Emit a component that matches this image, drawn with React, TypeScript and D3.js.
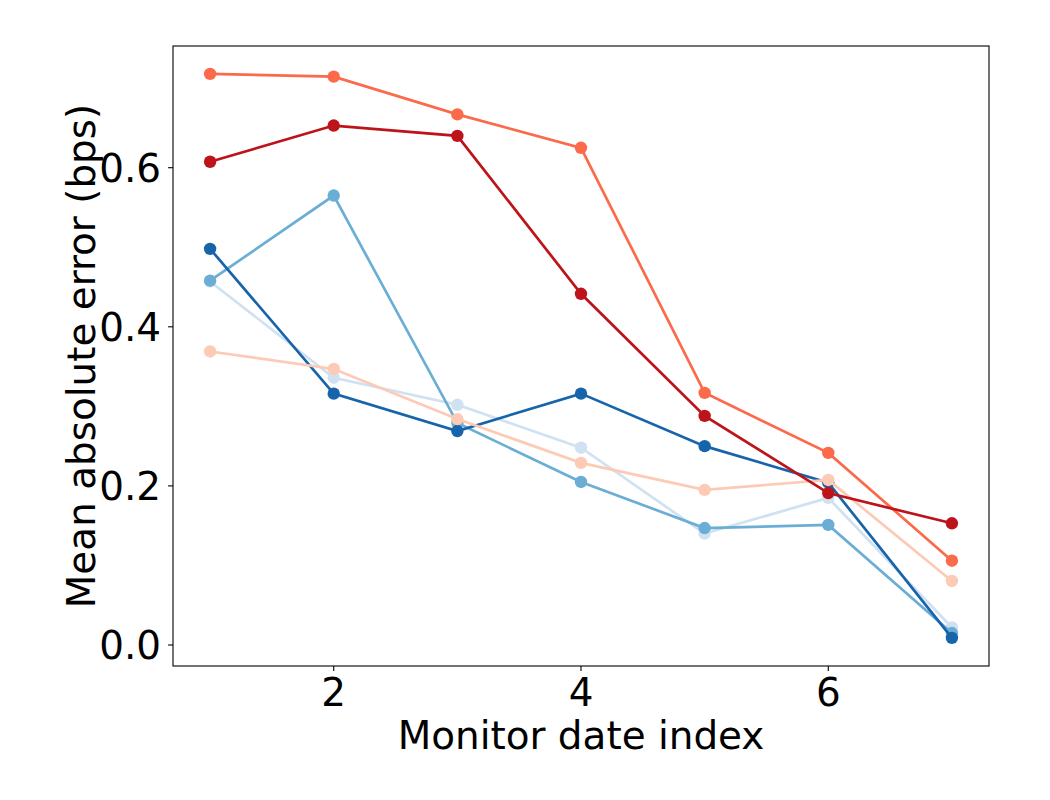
import * as d3 from 'd3';

const dateIndex = [1, 2, 3, 4, 5, 6, 7];

const blueLight = [0.457, 0.336, 0.302, 0.248, 0.140, 0.185, 0.022];
const blueMid = [0.458, 0.565, 0.279, 0.205, 0.147, 0.151, 0.015];
const blueDark = [0.498, 0.316, 0.269, 0.316, 0.250, 0.204, 0.009];
const redLight = [0.369, 0.347, 0.284, 0.229, 0.195, 0.2075, 0.0805];
const redMid = [0.718, 0.7145, 0.667, 0.625, 0.317, 0.2415, 0.106];
const redDark = [0.6075, 0.653, 0.640, 0.4415, 0.288, 0.191, 0.153];

const seriesList = [blueLight, blueMid, blueDark, redLight, redMid, redDark];
const seriesColors = ['#d0e1f2', '#6aaed6', '#1764ab', '#fdcab5', '#fb6a4a', '#bc141a'];

const xTicks = [2, 4, 6];
const yTicks = [0, 0.2, 0.4, 0.6];

const width = 1050;
const height = 800;
const marginLeft = 173;
const marginRight = 61;
const marginTop = 46;
const marginBottom = 134;
const font = 'DejaVu Sans, sans-serif';
const fontSize = 38.9;

function App() {
  const x = d3.scaleLinear([0.7, 7.3], [marginLeft, width - marginRight]);
  const y = d3.scaleLinear([-0.0264, 0.753], [height - marginBottom, marginTop]);
  const line = d3.line<number>((d, i) => x(dateIndex[i]), (d) => y(d));
  const plotBottom = height - marginBottom;

  return (
    <svg
      width={width}
      height={height}
      style={{ position: 'absolute', left: 0, top: 0, background: 'white' }}
    >
      {seriesList.map((s, k) => (
        <g key={k}>
          <path d={line(s) ?? undefined} fill="none" stroke={seriesColors[k]} strokeWidth={2.7} />
          {s.map((d, i) => (
            <circle key={i} cx={x(dateIndex[i])} cy={y(d)} r={6.2} fill={seriesColors[k]} />
          ))}
        </g>
      ))}
      <rect
        x={marginLeft}
        y={marginTop}
        width={width - marginRight - marginLeft}
        height={plotBottom - marginTop}
        fill="none"
        stroke="black"
        strokeWidth={1.1}
      />
      {xTicks.map((t) => (
        <g key={t} transform={`translate(${x(t)},${plotBottom})`}>
          <line y2={4.9} stroke="black" strokeWidth={1.1} />
          <text y={40} textAnchor="middle" fontFamily={font} fontSize={fontSize}>
            {t}
          </text>
        </g>
      ))}
      {yTicks.map((t) => (
        <g key={t} transform={`translate(${marginLeft},${y(t)})`}>
          <line x2={-4.9} stroke="black" strokeWidth={1.1} />
          <text x={-12} dy="0.36em" textAnchor="end" fontFamily={font} fontSize={fontSize}>
            {t.toFixed(1)}
          </text>
        </g>
      ))}
      <text
        x={(marginLeft + width - marginRight) / 2}
        y={749}
        textAnchor="middle"
        fontFamily={font}
        fontSize={fontSize}
      >
        Monitor date index
      </text>
      <text
        transform={`translate(95,${(marginTop + plotBottom) / 2}) rotate(-90)`}
        textAnchor="middle"
        fontFamily={font}
        fontSize={fontSize}
      >
        Mean absolute error (bps)
      </text>
    </svg>
  );
}

export default App;
